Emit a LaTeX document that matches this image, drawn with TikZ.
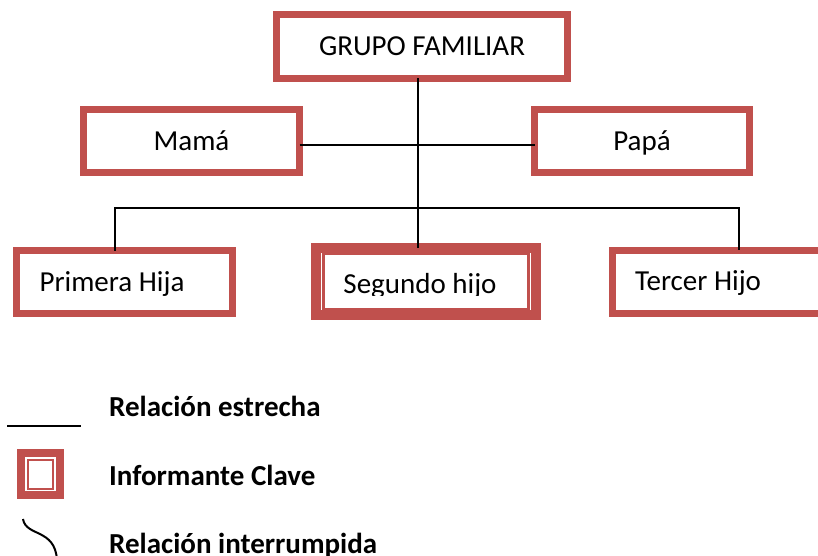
\documentclass[tikz,border=0pt]{standalone}
\usepackage{fontspec}
\setmainfont{Carlito}
\definecolor{boxred}{HTML}{C0504D}
\begin{document}
\begin{tikzpicture}[x=1pt,y=-1pt,
  fam/.style={draw=boxred, line width=7pt, fill=white, outer sep=0pt, inner sep=0pt,
              text height=20pt, text depth=2pt, font=\fontsize{29}{34}\selectfont},
  conn/.style={draw=black, line width=2pt},
  thinred/.style={draw=boxred, line width=2.2pt},
  legtext/.style={anchor=base west, inner sep=0pt, font=\fontsize{29}{34}\selectfont\bfseries}]
\clip (0,0) rectangle (818,556);
% guide coordinates
\coordinate (axis) at (418,0);
\coordinate (mp) at (418,145);
\coordinate (b1) at (115,208);
\coordinate (b3) at (739,208);
% boxes
\node[fam, minimum width=291pt, minimum height=64pt] (gf) at (422,46.5) {GRUPO FAMILIAR};
\node[fam, minimum width=216pt, minimum height=63pt] (mama) at (191.5,141) {Mamá};
\node[fam, minimum width=215pt, minimum height=63pt] (papa) at (642,141) {Papá};
\node[fam, minimum width=216pt, minimum height=63pt] (ph) at (124.5,282) {Primera Hija\hspace*{25pt}};
\node[fam, minimum width=210pt, minimum height=63pt] (th) at (717.5,281.5) {Tercer Hijo\hspace*{39pt}};
\node[fam, line width=10pt, minimum width=220pt, minimum height=67pt] (sh) at (426,281.5) {};
\draw[thinred] ([xshift=7.5pt,yshift=-6pt]sh.north west) rectangle ([xshift=-7.5pt,yshift=6pt]sh.south east);
\begin{scope}
  \clip (318,250) rectangle (534,295.5);
  \node[anchor=base, inner sep=0pt, font=\fontsize{29}{34}\selectfont] (shtext) at (420,293) {Segundo hijo};
\end{scope}
% connectors
\draw[conn] (gf.south -| axis) -- (sh.north -| axis);
\draw[conn] (mama.east |- mp) -- (papa.west |- mp);
\draw[conn] (ph.north -| b1) -- (b1) -- (b3) -- (th.north -| b3);
% legend
\coordinate (l1a) at (7,426);
\coordinate (l1b) at (81,426);
\draw[conn] (l1a) -- (l1b);
\node[legtext] (t1) at (109,416.5) {Relación estrecha};
\node[draw=boxred, line width=8pt, outer sep=0pt, inner sep=0pt, minimum width=39pt, minimum height=42pt] (lsq) at (40.5,474) {};
\draw[thinred] ([xshift=7.3pt,yshift=-7pt]lsq.north west) rectangle ([xshift=-7pt,yshift=6pt]lsq.south east);
\node[legtext] (t2) at (109,485) {Informante Clave};
\coordinate (c1) at (23,519);
\coordinate (c2) at (57,560);
\draw[conn] (c1) .. controls (26,537) and (55,528) .. (c2);
\node[legtext] (t3) at (109,553.5) {Relación interrumpida};
\end{tikzpicture}
\end{document}
